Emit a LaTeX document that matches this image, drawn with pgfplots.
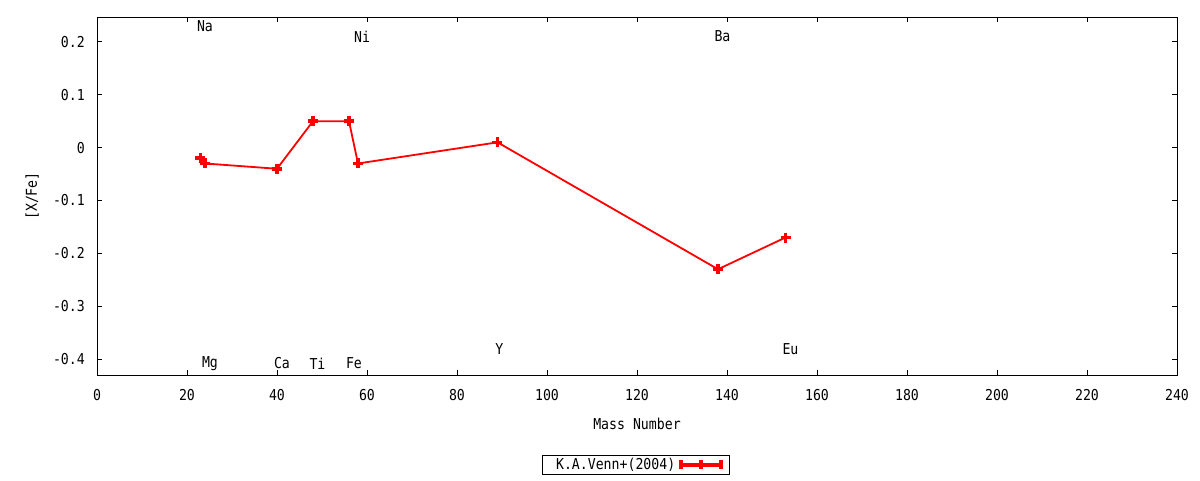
\documentclass[border=0pt]{standalone}
\usepackage{pgfplots}
\pgfplotsset{compat=1.18}
\usepackage{fontspec}
\setmainfont{DejaVu Sans Mono}[FakeStretch=0.88]

\begin{document}
\fontsize{15}{18}\selectfont
\begin{tikzpicture}
\useasboundingbox (-97pt,-105pt) rectangle (1103pt,375pt);
\begin{axis}[
    scale only axis,
    width=1080pt,
    height=358pt,
    xmin=0, xmax=240,
    ymin=-0.43, ymax=0.247,
    xtick={0,20,40,60,80,100,120,140,160,180,200,220,240},
    xticklabels={0,20,40,60,80,100,120,140,160,180,200,220,240},
    ytick={-0.4,-0.3,-0.2,-0.1,0,0.1,0.2},
    yticklabels={-0.4,-0.3,-0.2,-0.1,0,0.1,0.2},
    tick align=inside,
    major tick length=5pt,
    tick style={black, line width=0.8pt},
    axis line style={line width=0.9pt},
    xticklabel style={yshift=-9pt},
    yticklabel style={xshift=-7pt},
    xlabel={Mass Number},
    ylabel={[X/Fe]},
    xlabel style={at={(axis description cs:0.5,-0.137)}, anchor=center},
    ylabel style={at={(axis description cs:-0.060,0.5)}, anchor=center},
    legend style={at={(0.499,-0.251)}, anchor=center, draw=black, line width=0.8pt,
        inner xsep=5pt, inner ysep=1pt, font=\fontsize{15}{18}\selectfont},
    legend plot pos=right,
    legend image code/.code={
        \draw[red, line width=4.5pt] (0pt,0pt) -- (43pt,0pt);
        \draw[red, line width=3.5pt] (1.7pt,-4.5pt) -- (1.7pt,4.5pt);
        \draw[red, line width=3.5pt] (41.3pt,-4.5pt) -- (41.3pt,4.5pt);
        \draw[red, line width=3.5pt] (21.5pt,-4.5pt) -- (21.5pt,4.5pt);
    },
]
\addplot[color=red, line width=1.8pt, mark=+, mark size=5pt,
    every mark/.append style={solid, line width=3.5pt}]
    coordinates {
        (23,-0.02)
        (24,-0.03)
        (40,-0.04)
        (48,0.05)
        (56,0.05)
        (58,-0.03)
        (89,0.01)
        (138,-0.23)
        (153,-0.17)
    };
\addlegendentry{\hspace{7pt}K.A.Venn+(2004)\hspace{3pt}}

\node at (axis cs:24.0,0.229) {Na};
\node at (axis cs:58.9,0.210) {Ni};
\node at (axis cs:139.0,0.210) {Ba};
\node at (axis cs:25.1,-0.408) {Mg};
\node at (axis cs:41.1,-0.408) {Ca};
\node at (axis cs:49.0,-0.408) {Ti};
\node at (axis cs:57.1,-0.408) {Fe};
\node at (axis cs:89.4,-0.381) {Y};
\node at (axis cs:154.1,-0.381) {Eu};
\end{axis}
\end{tikzpicture}
\end{document}
